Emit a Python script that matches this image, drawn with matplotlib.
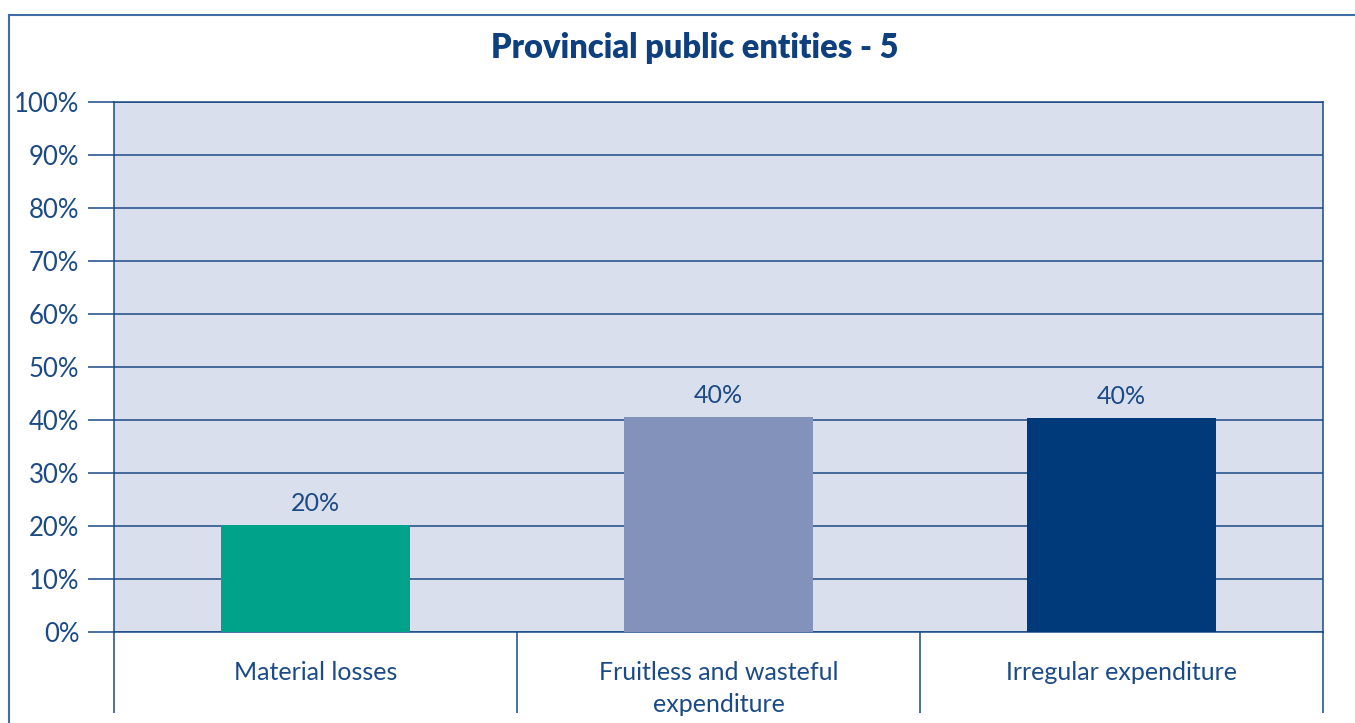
import matplotlib
matplotlib.use('Agg')
import matplotlib.pyplot as plt
from matplotlib.lines import Line2D

categories = ['Material losses', 'Fruitless and wasteful\nexpenditure', 'Irregular expenditure']
values = [20.2, 40.6, 40.4]
labels = ['20%', '40%', '40%']
bar_colors = ['#00A389', '#8292BB', '#003A7A']

navy = '#1B4A86'
plt.rcParams['font.family'] = ['Lato', 'DejaVu Sans']

fig = plt.figure(figsize=(13.55, 7.23), dpi=100)
ax = fig.add_axes([114 / 1355, 1 - 632 / 723, (1323 - 114) / 1355, (632 - 102) / 723])
ax.set_facecolor('#D9DFEC')

x = range(len(categories))
ax.bar(x, values, width=0.47, color=bar_colors, zorder=3)
for i, v in enumerate(values):
    ax.text(i, v + 1.8, labels[i], ha='center', va='bottom', fontsize=18, color=navy, zorder=4)

ax.set_xlim(-0.5, 2.5)
ax.set_ylim(0, 100)
ax.set_yticks(range(0, 101, 10))
ax.set_yticklabels([f'{t}%' for t in range(0, 101, 10)], fontsize=18.5, color=navy)
ax.yaxis.grid(True, color=navy, linewidth=1.1, zorder=1)
ax.tick_params(axis='y', length=19, width=1.1, color=navy, pad=6)

ax.set_xticks(list(x))
ax.set_xticklabels(categories, fontsize=18, color=navy, linespacing=1.45)
ax.tick_params(axis='x', which='major', length=0, pad=21)
ax.set_xticks([-0.5, 0.5, 1.5, 2.5], minor=True)
ax.tick_params(axis='x', which='minor', length=58, width=1.1, color=navy)

for s in ax.spines.values():
    s.set_color(navy)
    s.set_linewidth(1.1)

fig.text(695 / 1355, 1 - 48 / 723, 'Provincial public entities - 5', ha='center', va='center',
         fontsize=23.5, fontweight='heavy', color='#0E3F7E')

# outer frame
fx = 8.5 / 1355
fy = 1 - 14.7 / 723
fig.add_artist(Line2D([fx, 1], [fy, fy], color='#3F6DA6', linewidth=1.5))
fig.add_artist(Line2D([fx, fx], [0, fy], color='#3F6DA6', linewidth=1.5))

fig.savefig('out.png', dpi=100)
